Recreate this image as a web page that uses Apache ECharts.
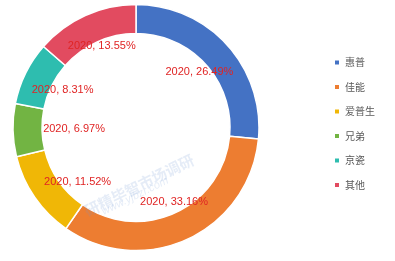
<!DOCTYPE html>
<html><head><meta charset="utf-8">
<script src="https://cdn.jsdelivr.net/npm/echarts@6/dist/echarts.min.js"></script>
<style>html,body{margin:0;padding:0;background:#fff}#c{width:395px;height:261px}</style>
</head><body><div id="c"></div>
<script>
const categories = ['惠普', '佳能', '爱普生', '兄弟', '京瓷', '其他'];
const values = [26.49, 33.16, 11.52, 6.97, 8.31, 13.55];
const year = '2020';
const colors = ['#4472C4', '#ED7D31', '#F0B706', '#72B443', '#2EBDAF', '#E24B60'];
const labelOffsets = [[2, 0], [3, -1], [10, 7], [21, 0], [1, -1], [0, -6]];

const chart = echarts.init(document.getElementById('c'));
const ringData = categories.map((n, i) => ({ name: n, value: values[i], itemStyle: { color: colors[i] } }));
const labelData = categories.map((n, i) => ({
  name: n, value: values[i],
  label: { offset: labelOffsets[i] }
}));
chart.setOption({
  animation: false,
  legend: {
    orient: 'vertical', left: 328, top: 52,
    itemWidth: 6, itemHeight: 6, itemGap: 13.5, icon: 'rect',
    data: categories,
    textStyle: { fontFamily: 'Noto Sans CJK SC', fontSize: 10, color: '#595959', lineHeight: 11 }
  },
  graphic: [
    { type: 'text', left: 82, top: 152, rotation: 0.46, z: 100, silent: true,
      style: { text: '研精毕智市场调研', font: 'bold 15px "Noto Sans CJK SC"', fill: 'rgba(110,150,210,0.18)' } },
    { type: 'text', left: 100, top: 175, rotation: 0.46, z: 100, silent: true,
      style: { text: 'www.yjbzr.com', font: 'italic 11px "Liberation Sans"', fill: 'rgba(110,150,210,0.18)' } }
  ],
  series: [
    {
      type: 'pie', name: 'ring', center: [136, 127.5], radius: [94, 123],
      startAngle: 90, clockwise: true, avoidLabelOverlap: false, silent: true,
      itemStyle: { borderColor: '#fff', borderWidth: 1.5 },
      label: { show: false }, labelLine: { show: false },
      data: ringData
    },
    {
      type: 'pie', name: 'labels', center: [136, 127.5], radius: [0, 160],
      startAngle: 90, clockwise: true, avoidLabelOverlap: false, silent: true,
      itemStyle: { color: 'rgba(0,0,0,0)' },
      label: {
        show: true, position: 'inside',
        formatter: p => year + ', ' + p.value.toFixed(2) + '%',
        fontFamily: 'Liberation Sans', fontSize: 11, color: '#E02424'
      },
      labelLine: { show: false },
      data: labelData
    }
  ]
});
</script></body></html>
